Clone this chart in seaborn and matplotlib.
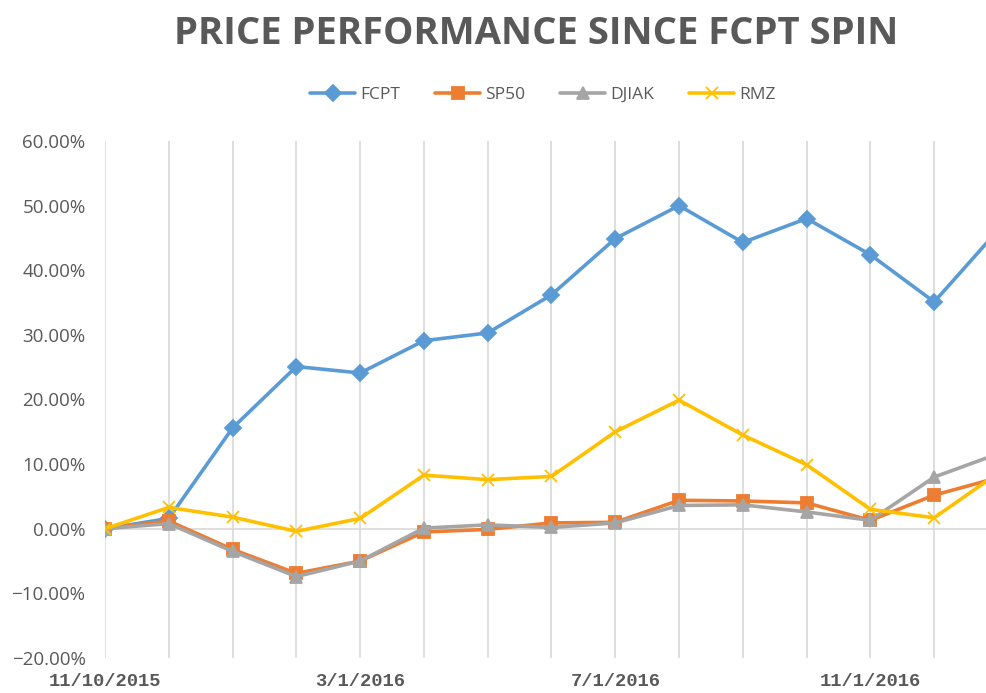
import pandas as pd
import matplotlib.pyplot as plt
import seaborn as sns
from matplotlib.ticker import PercentFormatter

# data (percent change since spin)
dates = ['11/10/2015', '12/1/2015', '1/1/2016', '2/1/2016', '3/1/2016', '4/1/2016',
         '5/1/2016', '6/1/2016', '7/1/2016', '8/1/2016', '9/1/2016', '10/1/2016',
         '11/1/2016', '12/1/2016', '1/1/2017']
fcpt = [0.0, 1.6, 15.6, 25.1, 24.1, 29.1, 30.3, 36.2, 44.9, 50.0, 44.3, 48.0, 42.4, 35.1, 46.2]
sp50 = [0.0, 1.2, -3.2, -6.9, -5.0, -0.5, -0.1, 0.9, 1.0, 4.4, 4.3, 4.0, 1.3, 5.2, 7.9]
djiak = [0.0, 0.8, -3.5, -7.4, -5.0, 0.1, 0.6, 0.2, 0.9, 3.6, 3.7, 2.6, 1.3, 8.0, 11.6]
rmz = [0.0, 3.3, 1.8, -0.4, 1.6, 8.3, 7.6, 8.1, 15.0, 19.9, 14.5, 9.9, 3.0, 1.7, 8.6]
shown_labels = {0: '11/10/2015', 4: '3/1/2016', 8: '7/1/2016', 12: '11/1/2016'}

df = pd.DataFrame({'idx': range(len(dates)), 'FCPT': fcpt, 'SP50': sp50,
                   'DJIAK': djiak, 'RMZ': rmz})

sns.set_style('white')
plt.rcParams['font.family'] = ['Open Sans', 'DejaVu Sans']

fig = plt.figure(figsize=(9.87, 6.93), dpi=100)
ax = fig.add_axes([105 / 987, 1 - 658 / 693, (998 - 105) / 987, (658 - 141) / 693])

pal = {'FCPT': '#5B9BD5', 'SP50': '#ED7D31', 'DJIAK': '#A5A5A5', 'RMZ': '#FFC000'}
marks = {'FCPT': 'D', 'SP50': 's', 'DJIAK': '^', 'RMZ': 'x'}
order = ['FCPT', 'SP50', 'DJIAK', 'RMZ']
for k in order:
    sns.lineplot(data=df, x='idx', y=k, color=pal[k], marker=marks[k],
                 markeredgecolor=pal[k], linewidth=2.6, markersize=8,
                 markeredgewidth=1.3, ax=ax, zorder=3)

ax.set_xlim(0, 14)
ax.set_ylim(-20, 60)
ax.set_yticks(range(-20, 61, 10))
ax.yaxis.set_major_formatter(PercentFormatter(decimals=2))
ax.set_xticks(range(len(dates)))
ax.set_xticklabels([shown_labels.get(i, '') for i in range(len(dates))])
ax.set_xlabel('')
ax.set_ylabel('')
for s in ax.spines.values():
    s.set_visible(False)
ax.grid(axis='x', color='#D9D9D9', linewidth=1.2)
ax.axhline(0, color='#D9D9D9', linewidth=1.2, zorder=1)
ax.tick_params(axis='y', length=0, pad=14, labelsize=13.5, labelcolor='#595959')
ax.tick_params(axis='x', length=0, pad=11, labelsize=13.5, labelcolor='#595959')
for t in ax.get_xticklabels():
    t.set_family(['Liberation Mono', 'DejaVu Sans Mono'])
    t.set_fontweight('bold')

fig.text(536 / 987, 1 - 34 / 693, 'PRICE PERFORMANCE SINCE FCPT SPIN',
         ha='center', va='center', fontsize=27.5, fontweight='bold', color='#595959')

handles = [plt.Line2D([], [], color=pal[k], marker=marks[k], linewidth=2.6,
                      markersize=8, markeredgewidth=1.3) for k in order]
fig.legend(handles, order, loc='center', bbox_to_anchor=(543 / 987, 1 - 95 / 693),
           ncol=4, frameon=False, fontsize=12.5, labelcolor='#595959',
           handlelength=2.6, handletextpad=0.3, columnspacing=2.0)

fig.savefig('out.png', dpi=100)
